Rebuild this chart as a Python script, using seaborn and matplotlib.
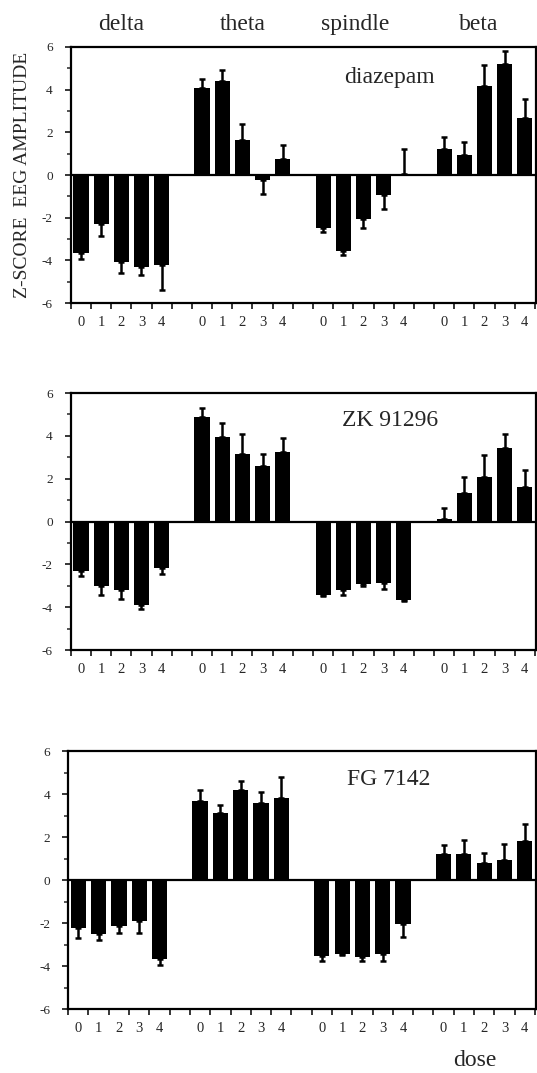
import numpy as np
import pandas as pd
import matplotlib
matplotlib.use("Agg")
import matplotlib.pyplot as plt
import seaborn as sns

sns.set_theme(style="ticks")
plt.rcParams["font.family"] = ["Liberation Serif", "DejaVu Serif"]
plt.rcParams["axes.unicode_minus"] = False

BANDS = ["delta", "theta", "spindle", "beta"]
DOSES = ["0", "1", "2", "3", "4"]

# z-score means, band by band (delta, theta, spindle, beta) x dose 0-4
DIAZEPAM_MEAN = [-3.65, -2.3, -4.1, -4.3, -4.2,
                 4.1, 4.4, 1.65, -0.25, 0.75,
                 -2.5, -3.55, -2.05, -0.95, 0.05,
                 1.2, 0.95, 4.15, 5.2, 2.65]
DIAZEPAM_ERR = [0.3, 0.55, 0.5, 0.4, 1.2,
                0.4, 0.5, 0.75, 0.65, 0.65,
                0.18, 0.22, 0.42, 0.65, 1.15,
                0.58, 0.58, 1.0, 0.6, 0.9]

ZK_MEAN = [-2.3, -3.0, -3.2, -3.9, -2.15,
           4.9, 3.95, 3.15, 2.6, 3.25,
           -3.45, -3.2, -2.9, -2.85, -3.65,
           0.12, 1.35, 2.1, 3.45, 1.6]
ZK_ERR = [0.25, 0.45, 0.4, 0.2, 0.28,
          0.4, 0.65, 0.95, 0.55, 0.65,
          0.05, 0.22, 0.12, 0.28, 0.04,
          0.5, 0.75, 1.0, 0.65, 0.8]

FG_MEAN = [-2.25, -2.5, -2.15, -1.9, -3.65,
           3.7, 3.1, 4.2, 3.6, 3.8,
           -3.55, -3.45, -3.6, -3.45, -2.05,
           1.2, 1.2, 0.8, 0.95, 1.8]
FG_ERR = [0.45, 0.28, 0.3, 0.55, 0.32,
          0.48, 0.4, 0.42, 0.48, 0.98,
          0.22, 0.04, 0.18, 0.3, 0.6,
          0.42, 0.68, 0.48, 0.72, 0.82]

DRUGS = ["diazepam", "ZK 91296", "FG 7142"]


def make_df(mean, err):
    rows = []
    for b, band in enumerate(BANDS):
        for d, dose in enumerate(DOSES):
            i = b * 5 + d
            rows.append({"band": band, "dose": dose, "pos": b * 6 + d,
                         "value": mean[i], "err": err[i]})
    return pd.DataFrame(rows)


def draw_panel(ax, df, label, label_y):
    sns.barplot(data=df, x="pos", y="value", native_scale=True, color="black",
                saturation=1, width=0.75, errorbar=None, linewidth=0, ax=ax)
    lo = np.where(df["value"] < 0, df["err"], 0)
    hi = np.where(df["value"] >= 0, df["err"], 0)
    ax.errorbar(df["pos"], df["value"], yerr=[lo, hi], fmt="none",
                ecolor="black", elinewidth=1.8, capsize=2.2, capthick=1.8)
    ax.axhline(0, color="black", lw=1.6)
    ax.set_xlim(-0.5, 22.55)
    ax.set_ylim(-6, 6)
    ax.set_xticks(np.arange(24) - 0.5)
    ax.set_xticklabels([])
    ax.set_xticks(df["pos"], minor=True)
    ax.set_xticklabels(df["dose"], minor=True, fontsize=10.5)
    ax.tick_params(axis="x", which="major", direction="out", length=4, width=1.3)
    ax.tick_params(axis="x", which="minor", length=0, pad=9)
    ax.set_yticks(np.arange(-6, 7, 2))
    ax.set_yticklabels([str(v) for v in range(-6, 7, 2)], fontsize=9.5)
    ax.set_yticks(np.arange(-6, 7, 1), minor=True)
    ax.tick_params(axis="y", which="major", direction="out", length=4, width=1.3, pad=9)
    ax.tick_params(axis="y", which="minor", direction="out", length=3, width=1.1)
    for s in ax.spines.values():
        s.set_color("black")
        s.set_linewidth(1.6)
    ax.set_xlabel("")
    ax.set_ylabel("")
    ax.text(15.3, label_y, label, fontsize=17, ha="center", va="center")


fig = plt.figure(figsize=(5.37, 10.73), dpi=100)
rects = [[0.132, 0.7176, 0.866, 0.2386],
         [0.132, 0.3942, 0.866, 0.2395],
         [0.127, 0.0596, 0.871, 0.2404]]
means = [DIAZEPAM_MEAN, ZK_MEAN, FG_MEAN]
errs = [DIAZEPAM_ERR, ZK_ERR, FG_ERR]
label_ys = [4.55, 4.7, 4.7]

axes = []
for rect, m, e, name, ly in zip(rects, means, errs, DRUGS, label_ys):
    ax = fig.add_axes(rect)
    draw_panel(ax, make_df(m, e), name, ly)
    axes.append(ax)

# band names above the top panel
band_x = [2, 8, 13.6, 19.7]
for bx, band in zip(band_x, BANDS):
    axes[0].annotate(band, (bx, 1.0), xycoords=("data", "axes fraction"),
                     xytext=(0, 16), textcoords="offset points",
                     ha="center", va="center", fontsize=17)

fig.text(23 / 537, 1 - 175 / 1073, "Z-SCORE  EEG AMPLITUDE", rotation=90,
         ha="center", va="center", fontsize=14)
fig.text(475 / 537, 1 - 1061 / 1073, "dose", ha="center", va="center", fontsize=17)

fig.savefig("out.png", dpi=100, facecolor="white")
